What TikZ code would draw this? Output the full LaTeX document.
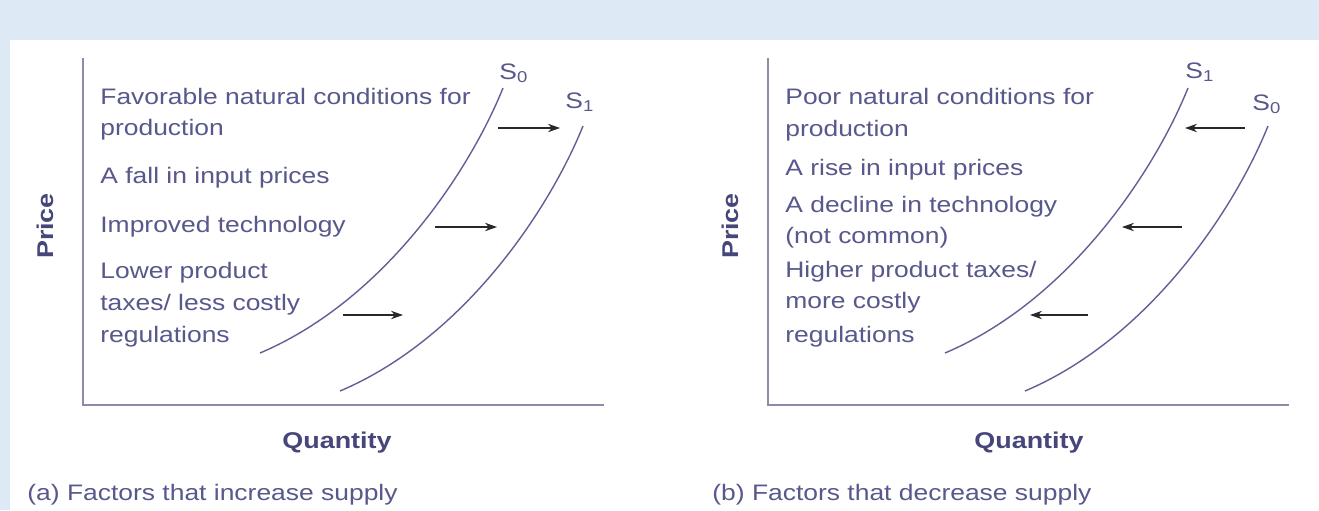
\documentclass[tikz,border=0pt]{standalone}
\usepackage{fontspec}
\setmainfont[FakeStretch=1.18]{Liberation Sans}
\usetikzlibrary{arrows.meta}

\definecolor{bandblue}{RGB}{221,233,244}
\definecolor{textblue}{RGB}{88,88,140}
\definecolor{labelblue}{RGB}{70,70,122}
\definecolor{axisgray}{RGB}{140,140,170}
\definecolor{curveblue}{RGB}{96,96,150}
\definecolor{shiftgray}{RGB}{40,40,40}

\begin{document}
\begin{tikzpicture}[
    x=0.5pt, y=-0.5pt,
    every node/.style={font=\fontsize{11.2pt}{15pt}\selectfont, inner sep=0pt, text=textblue},
    factor/.style={anchor=base west},
    axislabel/.style={font=\fontsize{11.4pt}{15pt}\selectfont\bfseries, text=labelblue},
    axisline/.style={draw=axisgray, line width=1pt},
    supply/.style={draw=curveblue, line width=0.7pt},
    shiftarrow/.style={draw=shiftgray, line width=0.7pt, -{Stealth[length=6pt,width=4.2pt]}},
]

% Background band and white panel
\fill[bandblue] (0,0) rectangle (1319,510);
\fill[white] (10,40) rectangle (1319,510);
\useasboundingbox (0,0) rectangle (1319,510);

% ---------------- (a) increase in supply ----------------
\coordinate (aTop) at (83,58);
\coordinate (aO) at (83,405);
\coordinate (aEnd) at (604,405);
\draw[axisline] (aTop) -- (aO) -- (aEnd);

\node[axislabel, rotate=90] (aPrice) at (45,226) {Price};
\node[axislabel] (aQty) at (337,443) {Quantity};
\node[anchor=base west] (aCap) at (27,500) {(a) Factors that increase supply};

% factor list
\node[factor] (aF1) at (100,104) {Favorable natural conditions for};
\node[factor] (aF2) at (100,135) {production};
\node[factor] (aF3) at (100,183) {A fall in input prices};
\node[factor] (aF4) at (100,232) {Improved technology};
\node[factor] (aF5) at (100,278) {Lower product};
\node[factor] (aF6) at (100,310) {taxes/ less costly};
\node[factor] (aF7) at (100,342) {regulations};

% supply curves
\coordinate (aS0lo) at (260,353);
\coordinate (aS0hi) at (503,88);
\coordinate (aS1lo) at (340,391);
\coordinate (aS1hi) at (583,126);
\draw[supply] (aS0lo) .. controls (385,300) and (470,170) .. (aS0hi);
\draw[supply] (aS1lo) .. controls (465,338) and (550,208) .. (aS1hi);
\node[anchor=base west] (aS0) at (499,79) {S\textsubscript{0}};
\node[anchor=base west] (aS1) at (565,108) {S\textsubscript{1}};

% shift arrows (rightward)
\coordinate (aA1) at (498,128); \coordinate (aB1) at (560,128);
\coordinate (aA2) at (435,227); \coordinate (aB2) at (497,227);
\coordinate (aA3) at (343,315); \coordinate (aB3) at (403,315);
\draw[shiftarrow] (aA1) -- (aB1);
\draw[shiftarrow] (aA2) -- (aB2);
\draw[shiftarrow] (aA3) -- (aB3);

% ---------------- (b) decrease in supply ----------------
\coordinate (bTop) at (768,58);
\coordinate (bO) at (768,405);
\coordinate (bEnd) at (1289,405);
\draw[axisline] (bTop) -- (bO) -- (bEnd);

\node[axislabel, rotate=90] (bPrice) at (730,226) {Price};
\node[axislabel] (bQty) at (1029,443) {Quantity};
\node[anchor=base west] (bCap) at (712,500) {(b) Factors that decrease supply};

% factor list
\node[factor] (bF1) at (785,104) {Poor natural conditions for};
\node[factor] (bF2) at (785,136) {production};
\node[factor] (bF3) at (785,175) {A rise in input prices};
\node[factor] (bF4) at (785,212) {A decline in technology};
\node[factor] (bF5) at (785,243) {(not common)};
\node[factor] (bF6) at (785,277) {Higher product taxes/};
\node[factor] (bF7) at (785,308) {more costly};
\node[factor] (bF8) at (785,342) {regulations};

% supply curves
\coordinate (bS1lo) at (945,353);
\coordinate (bS1hi) at (1188,88);
\coordinate (bS0lo) at (1025,391);
\coordinate (bS0hi) at (1268,126);
\draw[supply] (bS1lo) .. controls (1070,300) and (1155,170) .. (bS1hi);
\draw[supply] (bS0lo) .. controls (1150,338) and (1235,208) .. (bS0hi);
\node[anchor=base west] (bS1) at (1185,78) {S\textsubscript{1}};
\node[anchor=base west] (bS0) at (1252,110) {S\textsubscript{0}};

% shift arrows (leftward)
\coordinate (bA1) at (1245,128); \coordinate (bB1) at (1185,128);
\coordinate (bA2) at (1182,227); \coordinate (bB2) at (1122,227);
\coordinate (bA3) at (1088,315); \coordinate (bB3) at (1030,315);
\draw[shiftarrow] (bA1) -- (bB1);
\draw[shiftarrow] (bA2) -- (bB2);
\draw[shiftarrow] (bA3) -- (bB3);

\end{tikzpicture}
\end{document}
